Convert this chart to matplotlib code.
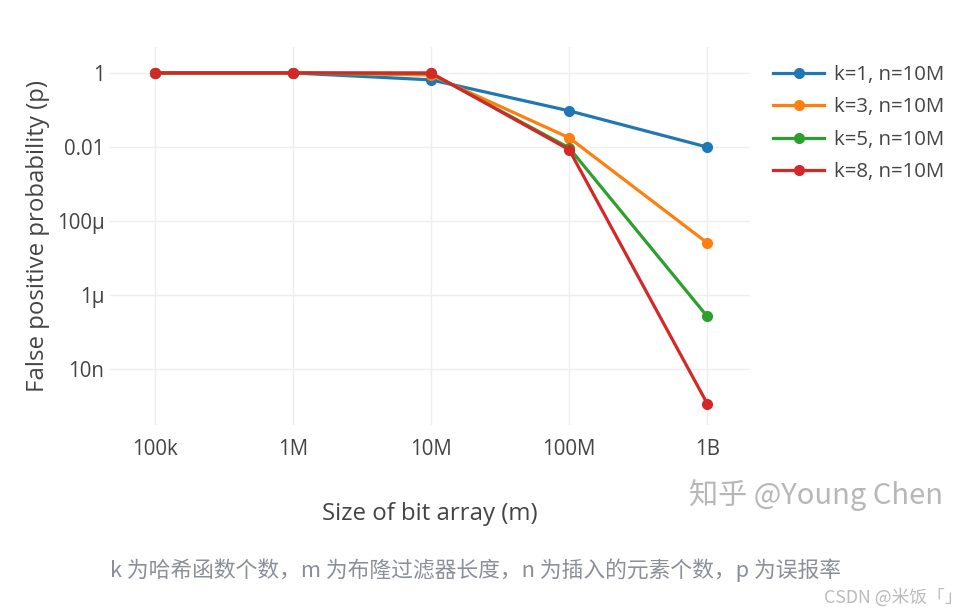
import matplotlib
matplotlib.use("Agg")
import matplotlib.pyplot as plt
from matplotlib.ticker import FixedLocator, FixedFormatter, NullLocator

# ---- data ----
m_sizes = [1e5, 1e6, 1e7, 1e8, 1e9]
x_tick_labels = ["100k", "1M", "10M", "100M", "1B"]
y_tick_values = [1, 1e-2, 1e-4, 1e-6, 1e-8]
y_tick_labels = ["1", "0.01", "100μ", "1μ", "10n"]

p_k1 = [1.0, 1.0, 0.65, 0.095, 0.010]
p_k3 = [1.0, 1.0, 0.88, 0.0178, 2.6e-5]
p_k5 = [1.0, 1.0, 0.97, 0.0095, 2.7e-7]
p_k8 = [1.0, 1.0, 1.0, 0.0085, 1.2e-9]

series_names = ["k=1, n=10M", "k=3, n=10M", "k=5, n=10M", "k=8, n=10M"]
series_values = [p_k1, p_k3, p_k5, p_k8]
colors = ["#1f77b4", "#ff7f0e", "#2ca02c", "#d62728"]

plt.rcParams['font.family'] = ['Open Sans', 'DejaVu Sans']

fig = plt.figure(figsize=(9.73, 6.16), dpi=100)
ax = fig.add_axes([110 / 973, 1 - 425 / 616, 640 / 973, 378 / 616])

for name, vals, c in zip(series_names, series_values, colors):
    ax.plot(m_sizes, vals, color=c, lw=2.3, marker='o', ms=7, label=name,
            solid_joinstyle='round', clip_on=False)

ax.set_xscale('log')
ax.set_yscale('log')
ax.set_xlim(10 ** (5 - 0.326), 10 ** 9.31)
ax.set_ylim(10 ** -9.5, 10 ** 0.70)

ax.xaxis.set_major_locator(FixedLocator(m_sizes))
ax.xaxis.set_major_formatter(FixedFormatter(x_tick_labels))
ax.xaxis.set_minor_locator(NullLocator())
ax.yaxis.set_major_locator(FixedLocator(y_tick_values))
ax.yaxis.set_major_formatter(FixedFormatter(y_tick_labels))
ax.yaxis.set_minor_locator(NullLocator())

ax.grid(True, color='#eeeeee', lw=1)
ax.set_axisbelow(True)
for s in ax.spines.values():
    s.set_visible(False)
ax.tick_params(axis='both', length=0, labelsize=14.8, labelcolor='#444444')
ax.tick_params(axis='x', pad=10)
ax.tick_params(axis='y', pad=4)

ax.set_xlabel("Size of bit array (m)", fontsize=17.3, color='#444444', labelpad=30)
ax.set_ylabel("False positive probability (p)", fontsize=17.3, color='#444444', labelpad=5)

leg = ax.legend(loc='upper left', bbox_to_anchor=(765 / 973, 1 - 57 / 616),
                bbox_transform=fig.transFigure, frameon=False, fontsize=14.7,
                handlelength=2.5, handletextpad=0.5, labelspacing=0.6,
                borderaxespad=0)
for t in leg.get_texts():
    t.set_color('#444444')

fig.text(943 / 973, 1 - 495 / 616, "知乎 @Young Chen", ha='right', va='center',
         fontsize=21, color='#b0b0b0', alpha=0.9,
         family=['Noto Sans CJK SC', 'DejaVu Sans'])

fig.text(110 / 973, 1 - 570 / 616,
         "k 为哈希函数个数，m 为布隆过滤器长度，n 为插入的元素个数，p 为误报率",
         ha='left', va='center', fontsize=15.7, color='#8a8f99',
         family=['Noto Sans CJK SC', 'DejaVu Sans'])

fig.text(962 / 973, 1 - 597 / 616, "CSDN @米饭「」", ha='right', va='center',
         fontsize=12.8, color='#bbbbbb',
         family=['Noto Sans CJK SC', 'DejaVu Sans'])

fig.savefig("out.png", dpi=100)
